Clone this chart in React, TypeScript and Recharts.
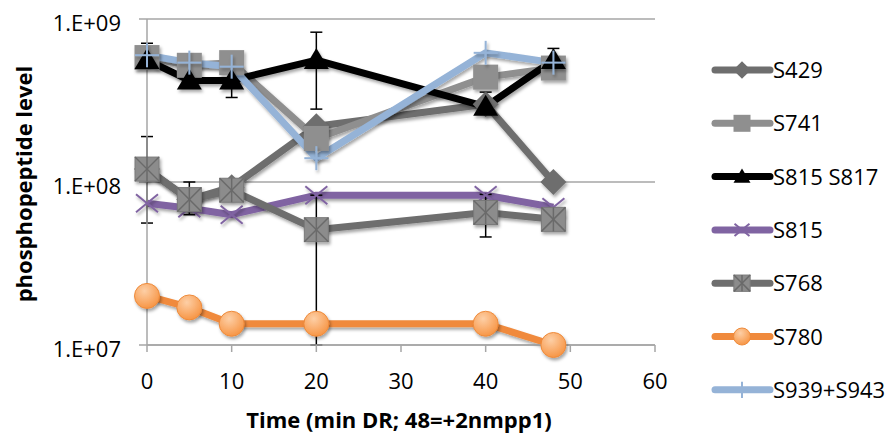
import { LineChart, Line, XAxis, YAxis, CartesianGrid, ErrorBar, Legend, Label } from "recharts"

// time points (min) and phosphopeptide levels
const times = [0, 5, 10, 20, 40, 48]
const s429 = [1.2e8, 7.8e7, 9.3e7, 2.2e8, 3.0e8, 1.0e8]
const s741 = [5.8e8, 5.2e8, 5.4e8, 1.85e8, 4.4e8, 5.0e8]
const s815s817 = [5.6e8, 4.2e8, 4.2e8, 5.6e8, 2.9e8, 5.6e8]
const s815 = [7.4e7, 6.9e7, 6.3e7, 8.3e7, 8.3e7, 7.0e7]
const s768 = [1.2e8, 7.8e7, 8.9e7, 5.1e7, 6.5e7, 5.9e7]
const s780 = [2.0e7, 1.7e7, 1.35e7, 1.35e7, 1.35e7, 1.0e7]
const s939s943 = [6.0e8, 5.4e8, 5.1e8, 1.4e8, 6.2e8, 5.4e8]

// error bars [minus, plus]
const errS815s817 = [[6e7, 1.5e8], [3e7, 3e7], [9e7, 9e7], [2.8e8, 2.7e8], [3e7, 6.6e7], [1e8, 1e8]]
const errS768 = [[6.4e7, 7e7], [1.5e7, 2.2e7], [0, 0], [4.1e7, 3.2e7], [1.9e7, 1.9e7], [0, 0]]

const xTicks = [0, 10, 20, 30, 40, 50, 60]
const yTicks = [1e7, 1e8, 1e9]

const series = [
  { key: "s429", name: "S429", values: s429, color: "#6e6e6e", marker: "diamond" },
  { key: "s741", name: "S741", values: s741, color: "#8f8f8f", marker: "square" },
  { key: "s815s817", name: "S815 S817", values: s815s817, color: "#000000", marker: "triangle" },
  { key: "s815", name: "S815", values: s815, color: "#8064a2", marker: "x" },
  { key: "s768", name: "S768", values: s768, color: "#6e6e6e", marker: "xsquare" },
  { key: "s780", name: "S780", values: s780, color: "#f08a3c", marker: "circle" },
  { key: "s939", name: "S939+S943", values: s939s943, color: "#95b3d7", marker: "plus" },
]

const data = times.map((t, i) => {
  const row: any = { t, e815817: errS815s817[i], e768: errS768[i] }
  series.forEach((s) => (row[s.key] = s.values[i]))
  return row
})

const FONT = "'Open Sans', sans-serif"

function marker(shape: string, cx: number, cy: number, k: number) {
  switch (shape) {
    case "diamond": {
      const s = 13 * k
      return <polygon points={`${cx},${cy - s} ${cx + s},${cy} ${cx},${cy + s} ${cx - s},${cy}`} fill="#6e6e6e" />
    }
    case "square": {
      const h = 12.5 * k
      return <rect x={cx - h} y={cy - h} width={2 * h} height={2 * h} fill="#8f8f8f" />
    }
    case "triangle": {
      const w = 12.5 * k
      return <polygon points={`${cx},${cy - 12 * k} ${cx + w},${cy + 9 * k} ${cx - w},${cy + 9 * k}`} fill="#000" />
    }
    case "x": {
      const a = 11 * k
      const b = 9 * k
      return (
        <g stroke="#8064a2" strokeWidth={2}>
          <line x1={cx - a} y1={cy - b} x2={cx + a} y2={cy + b} />
          <line x1={cx - a} y1={cy + b} x2={cx + a} y2={cy - b} />
        </g>
      )
    }
    case "xsquare": {
      const h = 12 * k
      return (
        <g>
          <rect x={cx - h} y={cy - h} width={2 * h} height={2 * h} fill="#8c8c8c" stroke="#7a7a7a" strokeWidth={1} />
          <g stroke="#6a6a6a" strokeWidth={1.5}>
            <line x1={cx - h} y1={cy - h} x2={cx + h} y2={cy + h} />
            <line x1={cx - h} y1={cy + h} x2={cx + h} y2={cy - h} />
            <line x1={cx} y1={cy - h} x2={cx} y2={cy + h} />
          </g>
        </g>
      )
    }
    case "circle":
      return <circle cx={cx} cy={cy} r={12.5 * k} fill="url(#orangeGrad)" stroke="#ee8a3a" strokeWidth={1} />
    case "plus": {
      const a = 12 * k
      return (
        <g stroke="#95b3d7" strokeWidth={2}>
          <line x1={cx} y1={cy - a} x2={cx} y2={cy + a} />
          <line x1={cx - a} y1={cy} x2={cx + a} y2={cy} />
        </g>
      )
    }
  }
  return null
}

const dotFor = (shape: string) => (props: any) => {
  const { cx, cy, index } = props
  if (cx == null || cy == null) return <g key={`${shape}-${index}`} />
  return (
    <g key={`${shape}-${index}`} filter="url(#shadow)">
      {marker(shape, cx, cy, 1)}
    </g>
  )
}

const renderLegend = () => (
  <svg width={195} height={437}>
    {series.map((s, i) => {
      const cy = 70 + i * 53.3
      return (
        <g key={s.key}>
          <line x1={15} y1={cy} x2={70} y2={cy} stroke={s.color} strokeWidth={7} strokeLinecap="round" />
          {marker(s.marker, 42, cy, 0.68)}
          <text x={73} y={cy + 8} fontFamily={FONT} fontSize={22} fill="#000">
            {s.name}
          </text>
        </g>
      )
    })}
  </svg>
)

const yTitle = () => (
  <text transform="translate(32,184) rotate(-90)" textAnchor="middle" fontFamily={FONT} fontWeight="bold" fontSize={22} fill="#000">
    phosphopeptide level
  </text>
)

const xTitle = () => (
  <text x={399} y={428} textAnchor="middle" fontFamily={FONT} fontWeight="bold" fontSize={22} fill="#000">
    Time (min DR; 48=+2nmpp1)
  </text>
)

export default function App() {
  return (
    <div style={{ position: "absolute", left: 0, top: 0, width: 895, height: 437, background: "#fff" }}>
      <svg width={0} height={0} style={{ position: "absolute" }}>
        <defs>
          <filter id="shadow" filterUnits="userSpaceOnUse" x={0} y={0} width={895} height={437}>
            <feDropShadow dx={1.5} dy={2.5} stdDeviation={1.6} floodColor="#000" floodOpacity={0.35} />
          </filter>
          <radialGradient id="orangeGrad" cx="40%" cy="30%" r="70%">
            <stop offset="0%" stopColor="#fdcfa6" />
            <stop offset="100%" stopColor="#f79646" />
          </radialGradient>
        </defs>
      </svg>
      <LineChart width={895} height={437} data={data} margin={{ top: 19, right: 240, left: 0, bottom: 0 }}>
        <CartesianGrid vertical={false} stroke="#a6a6a6" strokeWidth={1.5} />
        <XAxis
          dataKey="t"
          type="number"
          domain={[0, 60]}
          ticks={xTicks}
          height={92}
          stroke="#a6a6a6"
          strokeWidth={1.5}
          tickSize={7}
          tickMargin={21}
          tick={{ fill: "#000", fontSize: 22, fontFamily: FONT }}
        >
          <Label content={xTitle} />
        </XAxis>
        <YAxis
          scale="log"
          domain={[1e7, 1e9]}
          ticks={yTicks}
          width={147}
          stroke="#a6a6a6"
          strokeWidth={1.5}
          tickSize={8}
          tickMargin={18}
          tick={{ fill: "#000", fontSize: 22, fontFamily: FONT, dy: 4 }}
          tickFormatter={(v: number) => "1.E+" + String(Math.round(Math.log10(v))).padStart(2, "0")}
        >
          <Label content={yTitle} />
        </YAxis>
        <Legend layout="vertical" align="center" verticalAlign="middle" content={renderLegend} wrapperStyle={{ left: 700, top: 0, width: 195, height: 437 }} />
        {series.map((s) => (
          <Line
            key={s.key}
            dataKey={s.key}
            name={s.name}
            stroke={s.color}
            strokeWidth={7}
            strokeLinejoin="round"
            filter="url(#shadow)"
            dot={dotFor(s.marker)}
            activeDot={false}
            isAnimationActive={false}
          >
            {s.key === "s815s817" && <ErrorBar dataKey="e815817" direction="y" width={6} stroke="#000" strokeWidth={1.5} />}
            {s.key === "s768" && <ErrorBar dataKey="e768" direction="y" width={6} stroke="#000" strokeWidth={1.5} />}
          </Line>
        ))}
      </LineChart>
    </div>
  )
}
